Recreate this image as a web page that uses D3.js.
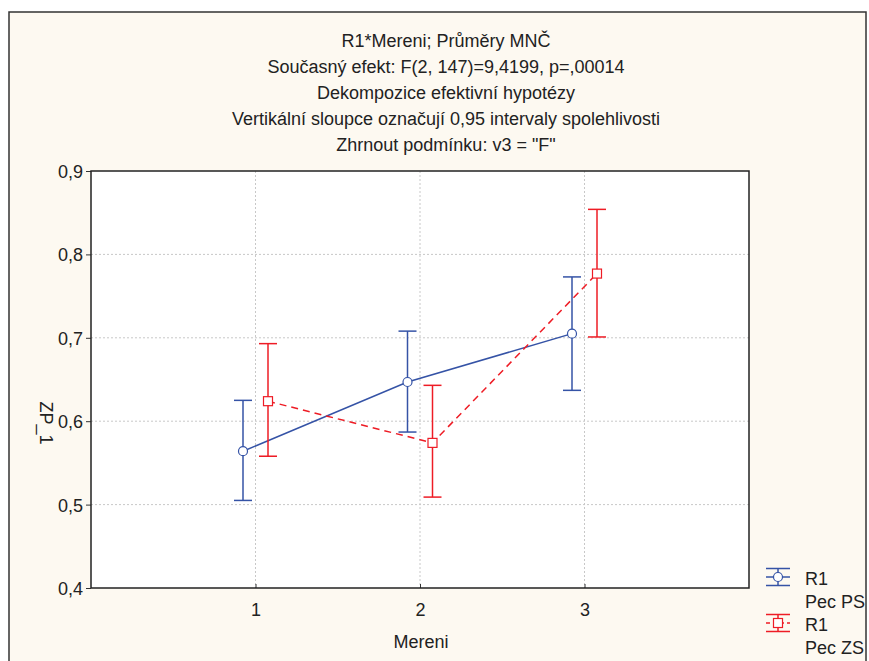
<!DOCTYPE html>
<html>
<head>
<meta charset="utf-8">
<script src="https://cdn.jsdelivr.net/npm/d3@7"></script>
<style>
  body { margin: 0; background: #fff; }
  text { font-family: "Liberation Sans", Arial, sans-serif; fill: #222; }
</style>
</head>
<body>
<div id="chart"></div>
<script>
"use strict";

// Data
const categories = [1, 2, 3];
const titleLines = [
  "R1*Mereni; Průměry MNČ",
  "Současný efekt: F(2, 147)=9,4199, p=,00014",
  "Dekompozice efektivní hypotézy",
  "Vertikální sloupce označují 0,95 intervaly spolehlivosti",
  "Zhrnout podmínku: v3 = \"F\""
];
const yTicks = [0.4, 0.5, 0.6, 0.7, 0.8, 0.9];

const psMean  = [0.564, 0.647, 0.705];
const psLower = [0.505, 0.587, 0.637];
const psUpper = [0.625, 0.708, 0.773];

const zsMean  = [0.624, 0.574, 0.777];
const zsLower = [0.558, 0.509, 0.701];
const zsUpper = [0.693, 0.643, 0.854];

const width = 869, height = 661;
const plot = {left: 91, right: 749, top: 171, bottom: 588};
const fontSize = "18px";

const svg = d3.select("#chart").append("svg")
  .attr("width", width)
  .attr("height", height);

// outer frame
svg.append("rect")
  .attr("x", 9).attr("y", 12)
  .attr("width", 857).attr("height", 660)
  .attr("fill", "#fdf9f1")
  .attr("stroke", "#333").attr("stroke-width", 1.5);

const x = d3.scaleLinear().domain([0, 4]).range([plot.left, plot.right]);
const y = d3.scaleLinear().domain([0.4, 0.9]).range([plot.bottom, plot.top]);

svg.append("rect")
  .attr("x", plot.left).attr("y", plot.top)
  .attr("width", plot.right - plot.left).attr("height", plot.bottom - plot.top)
  .attr("fill", "#fff");

// grid
svg.append("g").selectAll("line")
  .data(yTicks.slice(1, -1))
  .join("line")
    .attr("x1", plot.left).attr("x2", plot.right)
    .attr("y1", d => y(d)).attr("y2", d => y(d))
    .attr("stroke", "#c8c8c8").attr("stroke-dasharray", "2,2");

svg.append("g").selectAll("line")
  .data(categories)
  .join("line")
    .attr("y1", plot.top).attr("y2", plot.bottom)
    .attr("x1", d => x(d)).attr("x2", d => x(d))
    .attr("stroke", "#c8c8c8").attr("stroke-dasharray", "2,2");

// axes
const yAxis = d3.axisLeft(y)
  .tickValues(yTicks)
  .tickSize(5)
  .tickFormat(d => d3.format(".1f")(d).replace(".", ","));
const gy = svg.append("g")
  .attr("transform", `translate(${plot.left},0)`)
  .call(yAxis);
gy.select(".domain").remove();
gy.selectAll("line").attr("stroke", "#333");
gy.selectAll("text")
  .attr("x", -8)
  .attr("dy", "0.36em")
  .style("font-size", fontSize)
  .style("font-family", "Liberation Sans, Arial, sans-serif")
  .attr("fill", "#222");

const xAxis = d3.axisBottom(x)
  .tickValues(categories)
  .tickSize(-4)
  .tickFormat(d3.format("d"));
const gx = svg.append("g")
  .attr("transform", `translate(0,${plot.bottom})`)
  .call(xAxis);
gx.select(".domain").remove();
gx.selectAll("line").attr("stroke", "#333");
gx.selectAll("text")
  .attr("y", 15)
  .style("font-size", fontSize)
  .style("font-family", "Liberation Sans, Arial, sans-serif")
  .attr("fill", "#222");

svg.append("rect")
  .attr("x", plot.left).attr("y", plot.top)
  .attr("width", plot.right - plot.left).attr("height", plot.bottom - plot.top)
  .attr("fill", "none").attr("stroke", "#222").attr("stroke-width", 1.5);

// titles
svg.append("g").selectAll("text")
  .data(titleLines)
  .join("text")
    .attr("x", 446)
    .attr("y", (d, i) => 47 + i * 25.9)
    .attr("text-anchor", "middle")
    .style("font-size", fontSize)
    .text(d => d);

svg.append("text")
  .attr("x", 421).attr("y", 648)
  .attr("text-anchor", "middle")
  .style("font-size", fontSize)
  .text("Mereni");

svg.append("text")
  .attr("transform", "translate(40,423) rotate(90)")
  .attr("text-anchor", "middle")
  .style("font-size", fontSize)
  .text("ZP_1");

// series
const series = [
  {name: "Pec PS", mean: psMean, lower: psLower, upper: psUpper, color: "#3553a6", offset: -12.5, dash: null, shape: "circle"},
  {name: "Pec ZS", mean: zsMean, lower: zsLower, upper: zsUpper, color: "#ee1c25", offset: 12.5, dash: "7,5", shape: "square"}
];

const line = d3.line();

series.forEach(s => {
  const px = i => x(categories[i]) + s.offset;
  const g = svg.append("g");

  // error bars
  categories.forEach((c, i) => {
    g.append("line")
      .attr("x1", px(i)).attr("x2", px(i))
      .attr("y1", y(s.lower[i])).attr("y2", y(s.upper[i]))
      .attr("stroke", s.color).attr("stroke-width", 1.5);
    [s.lower[i], s.upper[i]].forEach(v => {
      g.append("line")
        .attr("x1", px(i) - 9).attr("x2", px(i) + 9)
        .attr("y1", y(v)).attr("y2", y(v))
        .attr("stroke", s.color).attr("stroke-width", 1.5);
    });
  });

  g.append("path")
    .attr("d", line(categories.map((c, i) => [px(i), y(s.mean[i])])))
    .attr("fill", "none")
    .attr("stroke", s.color).attr("stroke-width", 1.5)
    .attr("stroke-dasharray", s.dash);

  categories.forEach((c, i) => {
    if (s.shape === "circle") {
      g.append("circle")
        .attr("cx", px(i)).attr("cy", y(s.mean[i])).attr("r", 4.5)
        .attr("fill", "#fff").attr("stroke", s.color).attr("stroke-width", 1.2);
    } else {
      g.append("rect")
        .attr("x", px(i) - 4.5).attr("y", y(s.mean[i]) - 4.5)
        .attr("width", 9).attr("height", 9)
        .attr("fill", "#fff").attr("stroke", s.color).attr("stroke-width", 1.2);
    }
  });
});

// legend
const legend = svg.append("g");
series.forEach((s, i) => {
  const ly = 577 + i * 46;
  const cx = 778;
  const lg = legend.append("g");
  lg.append("line")
    .attr("x1", cx - 12).attr("x2", cx + 12).attr("y1", ly).attr("y2", ly)
    .attr("stroke", s.color).attr("stroke-width", 1.5)
    .attr("stroke-dasharray", s.dash ? "4,3" : null);
  [-8.5, 8.5].forEach(dy => {
    lg.append("line")
      .attr("x1", cx - 12).attr("x2", cx + 12).attr("y1", ly + dy).attr("y2", ly + dy)
      .attr("stroke", s.color).attr("stroke-width", 1.5);
  });
  lg.append("line")
    .attr("x1", cx).attr("x2", cx).attr("y1", ly - 8.5).attr("y2", ly + 8.5)
    .attr("stroke", s.color).attr("stroke-width", 1.5);
  if (s.shape === "circle") {
    lg.append("circle").attr("cx", cx).attr("cy", ly).attr("r", 4.5)
      .attr("fill", "#fff").attr("stroke", s.color).attr("stroke-width", 1.2);
  } else {
    lg.append("rect").attr("x", cx - 4.5).attr("y", ly - 4.5).attr("width", 9).attr("height", 9)
      .attr("fill", "#fff").attr("stroke", s.color).attr("stroke-width", 1.2);
  }
  lg.append("text").attr("x", 805).attr("y", ly + 8)
    .style("font-size", fontSize).text("R1");
  lg.append("text").attr("x", 805).attr("y", ly + 31)
    .style("font-size", fontSize).text(s.name);
});
</script>
</body>
</html>
